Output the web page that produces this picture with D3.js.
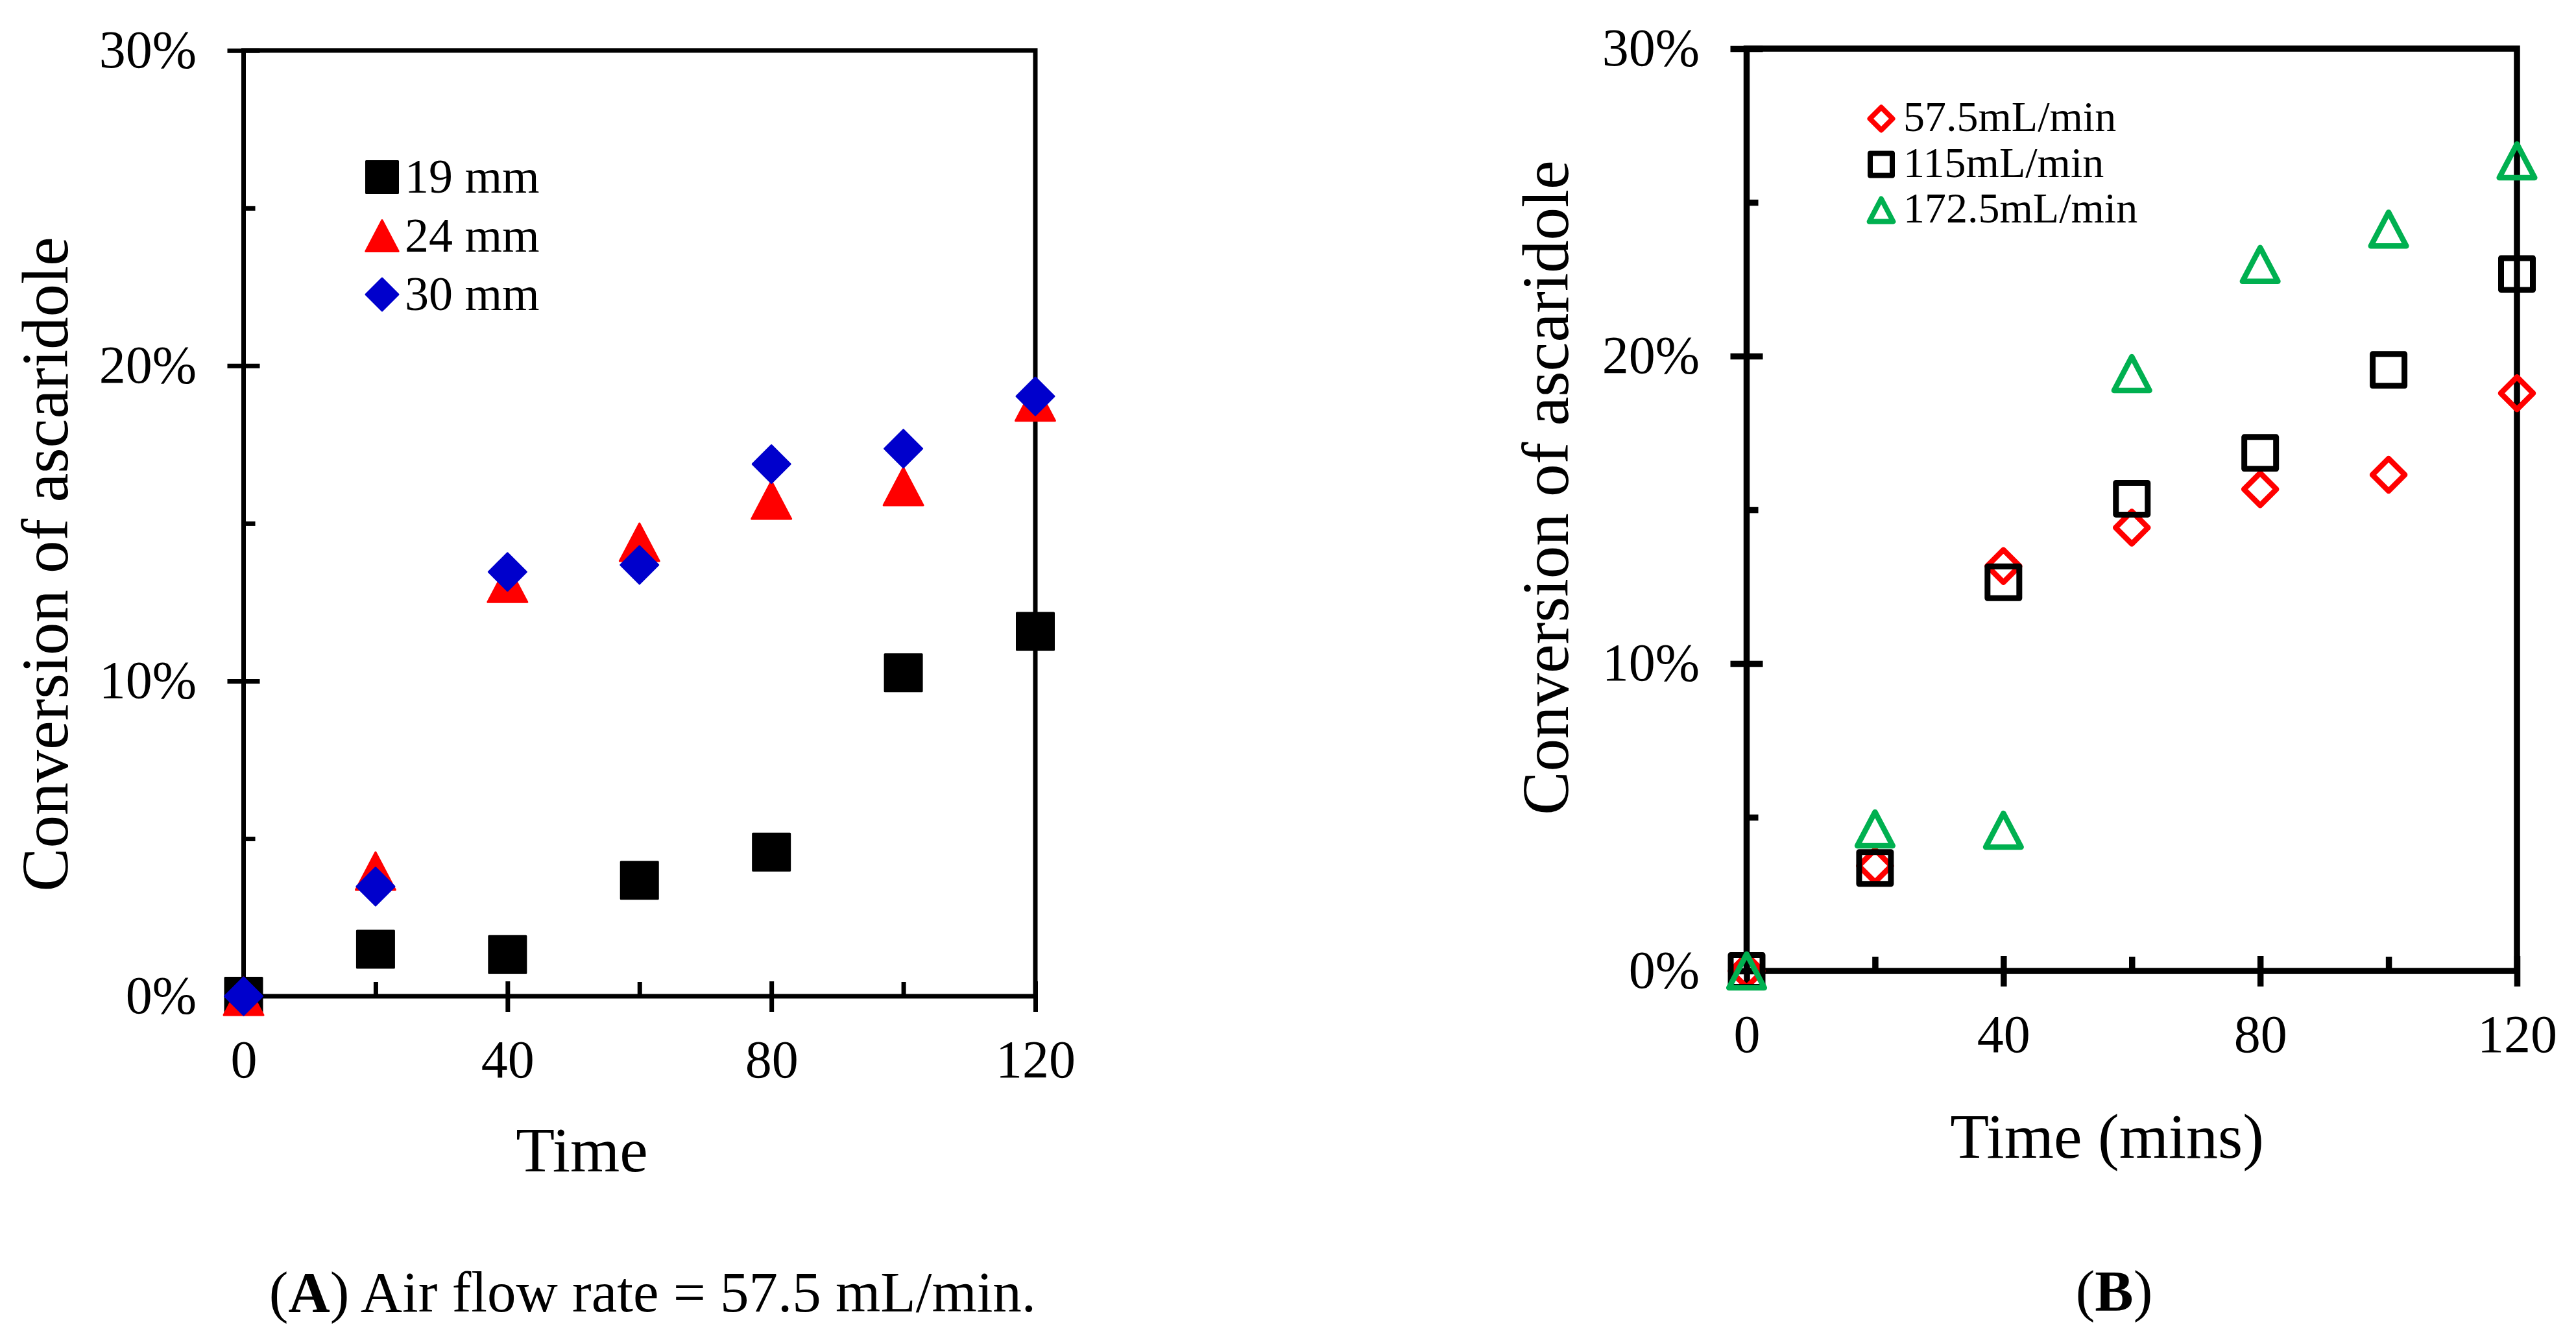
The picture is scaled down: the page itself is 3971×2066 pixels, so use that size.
<!DOCTYPE html>
<html>
<head>
<meta charset="utf-8">
<script src="https://cdn.jsdelivr.net/npm/d3@7"></script>
<style>
  body { margin: 0; background: #fff; }
  text { font-family: "Liberation Serif", "Times New Roman", serif; fill: #000; }
</style>
</head>
<body>
<div id="chart"></div>
<script>
// data (conversion in %)
const times = [0, 20, 40, 60, 80, 100, 120];
const conv19mm = [0, 1.49, 1.32, 3.68, 4.57, 10.26, 11.57];
const conv24mm = [0, 3.97, 13.1, 14.4, 15.74, 16.17, 18.85];
const conv30mm = [0, 3.48, 13.46, 13.68, 16.88, 17.37, 19.03];
const conv57 = [0, 3.42, 13.17, 14.42, 15.67, 16.14, 18.79];
const conv115 = [0, 3.35, 12.64, 15.36, 16.85, 19.55, 22.67];
const conv172 = [0, 4.62, 4.58, 19.43, 22.98, 24.13, 26.35];

const namesA = ["19 mm", "24 mm", "30 mm"];
const namesB = ["57.5mL/min", "115mL/min", "172.5mL/min"];
const xMajorTicks = [0, 40, 80, 120];
const xMinorTicks = [20, 60, 100];
const yMajorTicks = [0, 10, 20, 30];
const yMinorTicks = [5, 15, 25];

const W = 3971, H = 2066;
const svg = d3.select("#chart").append("svg")
    .attr("width", W)
    .attr("height", H)
    .style("display", "block");
svg.append("rect").attr("width", W).attr("height", H).attr("fill", "#fff");

// excel-like marker shapes, size = half width
const squareSym = { draw(ctx, r) { ctx.rect(-r, -r, 2 * r, 2 * r); } };
const diamondSym = { draw(ctx, r) {
    ctx.moveTo(0, -r); ctx.lineTo(r, 0); ctx.lineTo(0, r); ctx.lineTo(-r, 0); ctx.closePath();
} };
const triangleSym = { draw(ctx, r) {
    ctx.moveTo(0, -r); ctx.lineTo(r * 1.05, r); ctx.lineTo(-r * 1.05, r); ctx.closePath();
} };

const FONT = "Liberation Serif, Times New Roman, serif";

function drawPanel(cfg) {
    const x = d3.scaleLinear().domain([0, 120]).range([cfg.left, cfg.right]);
    const y = d3.scaleLinear().domain([0, 30]).range([cfg.bottom, cfg.top]);
    const g = svg.append("g");
    const sw = cfg.sw;

    // plot frame
    g.append("rect")
        .attr("x", x(0)).attr("y", y(30))
        .attr("width", x(120) - x(0)).attr("height", y(0) - y(30))
        .attr("fill", "none").attr("stroke", "#000").attr("stroke-width", sw);

    // y axis
    const gy = g.append("g").attr("transform", `translate(${x(0)},0)`)
        .call(d3.axisLeft(y).tickValues(yMajorTicks).tickSize(25).tickFormat(d => d + "%"));
    gy.attr("font-size", 82).attr("font-family", FONT);
    gy.select(".domain").remove();
    gy.selectAll(".tick line").attr("x1", 25).attr("x2", -25)
        .attr("stroke", "#000").attr("stroke-width", sw);
    gy.selectAll(".tick text").attr("x", -72.5).attr("dy", "0.31em").attr("fill", "#000");

    const gym = g.append("g").attr("transform", `translate(${x(0)},0)`)
        .call(d3.axisLeft(y).tickValues(yMinorTicks).tickSize(-18).tickFormat(""));
    gym.select(".domain").remove();
    gym.selectAll(".tick line").attr("stroke", "#000").attr("stroke-width", sw);

    // x axis
    const gx = g.append("g").attr("transform", `translate(0,${y(0)})`)
        .call(d3.axisBottom(x).tickValues(xMajorTicks).tickSize(24));
    gx.attr("font-size", 82).attr("font-family", FONT);
    gx.select(".domain").remove();
    gx.selectAll(".tick line").attr("y1", -23).attr("y2", 24)
        .attr("stroke", "#000").attr("stroke-width", sw);
    gx.selectAll(".tick text").attr("y", 125).attr("dy", null).attr("fill", "#000");

    const gxm = g.append("g").attr("transform", `translate(0,${y(0)})`)
        .call(d3.axisBottom(x).tickValues(xMinorTicks).tickSize(-22).tickFormat(""));
    gxm.select(".domain").remove();
    gxm.selectAll(".tick line").attr("stroke", "#000").attr("stroke-width", sw);

    // axis titles
    g.append("text")
        .attr("transform", `translate(${cfg.yTitleX},${cfg.yTitleY}) rotate(-90)`)
        .attr("text-anchor", "middle")
        .attr("font-size", 101)
        .text("Conversion of ascaridole");
    g.append("text")
        .attr("x", cfg.xTitleX).attr("y", cfg.xTitleY)
        .attr("text-anchor", "middle")
        .attr("font-size", 98)
        .text(cfg.xTitle);

    // points
    cfg.series.forEach(s => {
        const sym = d3.symbol().type(s.shape).size(s.r);
        g.append("g").selectAll("path")
            .data(times.map((t, i) => ({ t: t, v: s.values[i] })))
            .join("path")
            .attr("transform", d => `translate(${x(d.t)},${y(d.v)})`)
            .attr("d", sym)
            .attr("fill", s.filled ? s.color : "none")
            .attr("stroke", s.color)
            .attr("stroke-width", s.sw)
            .attr("stroke-linejoin", "round");
    });

    // legend
    const lg = g.append("g");
    cfg.series.forEach((s, i) => {
        const cy = cfg.legend.y + i * cfg.legend.step;
        lg.append("path")
            .attr("transform", `translate(${cfg.legend.x},${cy})`)
            .attr("d", d3.symbol().type(s.shape).size(s.lr))
            .attr("fill", s.filled ? s.color : "none")
            .attr("stroke", s.color)
            .attr("stroke-width", s.lsw)
            .attr("stroke-linejoin", "round");
        lg.append("text")
            .attr("x", cfg.legend.tx)
            .attr("y", cy + cfg.legend.dy)
            .attr("font-size", cfg.legend.fs)
            .text(cfg.names[i]);
    });
}

drawPanel({
    left: 375.5, right: 1596, bottom: 1536, top: 77.8, sw: 7,
    yTitleX: 104, yTitleY: 870,
    xTitle: "Time", xTitleX: 897, xTitleY: 1806,
    names: namesA,
    legend: { x: 589, y: 273, step: 90.5, tx: 624, dy: 24, fs: 74 },
    series: [
        { values: conv19mm, shape: squareSym, color: "#000000", filled: true, r: 28.5, sw: 3, lr: 24.5, lsw: 3 },
        { values: conv24mm, shape: triangleSym, color: "#FF0000", filled: true, r: 29, sw: 3, lr: 24, lsw: 3 },
        { values: conv30mm, shape: diamondSym, color: "#0000CC", filled: true, r: 29, sw: 3, lr: 25, lsw: 3 }
    ]
});

drawPanel({
    left: 2692.5, right: 3880, bottom: 1497, top: 75, sw: 9.5,
    yTitleX: 2417, yTitleY: 752,
    xTitle: "Time (mins)", xTitleX: 3248, xTitleY: 1785,
    names: namesB,
    legend: { x: 2900, y: 183, step: 70.5, tx: 2934, dy: 19, fs: 66 },
    series: [
        { values: conv57, shape: diamondSym, color: "#FF0000", filled: false, r: 25, sw: 8.5, lr: 17.5, lsw: 8 },
        { values: conv115, shape: squareSym, color: "#000000", filled: false, r: 24.5, sw: 9, lr: 17, lsw: 8 },
        { values: conv172, shape: triangleSym, color: "#00B050", filled: false, r: 26, sw: 8.5, lr: 17.5, lsw: 8 }
    ]
});

// captions
const capA = svg.append("text")
    .attr("x", 1006).attr("y", 2022)
    .attr("text-anchor", "middle")
    .attr("font-size", 89);
capA.append("tspan").text("(");
capA.append("tspan").attr("font-weight", "bold").text("A");
capA.append("tspan").text(") Air flow rate = 57.5 mL/min.");

const capB = svg.append("text")
    .attr("x", 3259).attr("y", 2020)
    .attr("text-anchor", "middle")
    .attr("font-size", 89);
capB.append("tspan").text("(");
capB.append("tspan").attr("font-weight", "bold").text("B");
capB.append("tspan").text(")");
</script>
</body>
</html>
